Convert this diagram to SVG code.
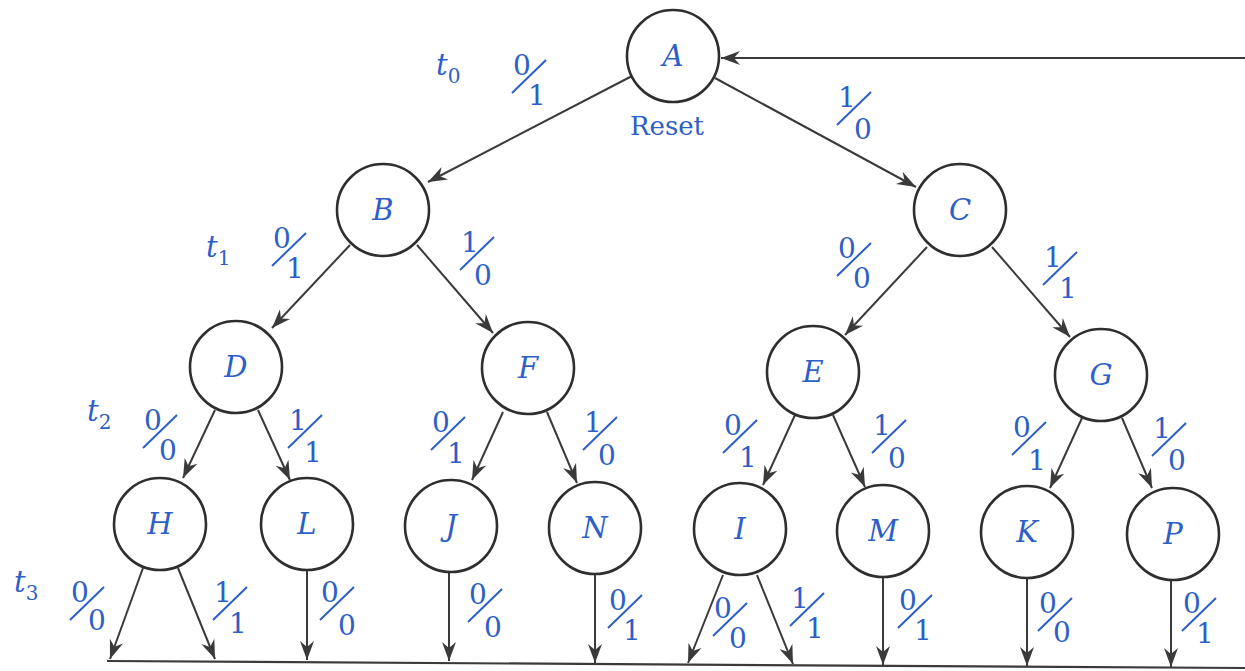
<svg xmlns="http://www.w3.org/2000/svg" width="1245" height="671" viewBox="0 0 1245 671">
<style>
.n{fill:none;stroke:#2e2e2e;stroke-width:2.6}
.e{stroke:#3a3a3a;stroke-width:2;fill:none;marker-end:url(#ah)}
.s{stroke:#2d5fc6;stroke-width:2}
</style>
<defs>
<marker id="ah" markerUnits="userSpaceOnUse" viewBox="-20 -10 22 20" markerWidth="22" markerHeight="20" refX="0" refY="0" orient="auto">
<path d="M0,0 L-19,-7 L-13,0 L-19,7 Z" fill="#3a3a3a"/>
</marker>
<g id="fr"><line class="s" x1="-10" y1="18" x2="24" y2="-15"/></g>
</defs>
<rect width="1245" height="671" fill="#ffffff"/>

<g id="connectors">
<line class="e" x1="1245" y1="58" x2="721" y2="58"/>
<line class="e" x1="632" y1="76" x2="428" y2="182"/>
<line class="e" x1="715" y1="78" x2="916" y2="187"/>
<line class="e" x1="350" y1="245" x2="272" y2="328"/>
<line class="e" x1="417" y1="245" x2="493" y2="333"/>
<line class="e" x1="927" y1="247" x2="845" y2="335"/>
<line class="e" x1="992" y1="247" x2="1070" y2="337"/>
<line class="e" x1="215" y1="410" x2="183" y2="478"/>
<line class="e" x1="258" y1="410" x2="290" y2="480"/>
<line class="e" x1="503" y1="412" x2="472" y2="480"/>
<line class="e" x1="547" y1="412" x2="577" y2="483"/>
<line class="e" x1="795" y1="415" x2="763" y2="485"/>
<line class="e" x1="833" y1="415" x2="865" y2="487"/>
<line class="e" x1="1082" y1="418" x2="1050" y2="488"/>
<line class="e" x1="1122" y1="418" x2="1152" y2="488"/>
<line class="e" x1="143" y1="568" x2="110" y2="659"/>
<line class="e" x1="178" y1="568" x2="215" y2="659"/>
<line class="e" x1="307" y1="571" x2="307" y2="660"/>
<line class="e" x1="449" y1="573" x2="449" y2="661"/>
<line class="e" x1="595" y1="575" x2="595" y2="663"/>
<line class="e" x1="723" y1="575" x2="688" y2="663"/>
<line class="e" x1="757" y1="575" x2="793" y2="664"/>
<line class="e" x1="883" y1="578" x2="883" y2="665"/>
<line class="e" x1="1027" y1="578" x2="1027" y2="666"/>
<line class="e" x1="1171" y1="580" x2="1171" y2="667"/>
<line stroke="#3a3a3a" stroke-width="2.2" x1="107" y1="661" x2="1245" y2="668"/>
</g>

<g font-family="DejaVu Serif, serif" font-style="italic" font-size="29" fill="#2d5fc6" text-anchor="middle">
<g id="A"><circle class="n" cx="673" cy="56" r="46"/><text x="673" y="66">A</text></g>
<g id="B"><circle class="n" cx="383" cy="210" r="46"/><text x="383" y="220">B</text></g>
<g id="C"><circle class="n" cx="960" cy="210" r="46"/><text x="960" y="220">C</text></g>
<g id="D"><circle class="n" cx="236" cy="367" r="46"/><text x="236" y="377">D</text></g>
<g id="F"><circle class="n" cx="528" cy="368" r="46"/><text x="528" y="378">F</text></g>
<g id="E"><circle class="n" cx="813" cy="372" r="46"/><text x="813" y="382">E</text></g>
<g id="G"><circle class="n" cx="1101" cy="375" r="46"/><text x="1101" y="385">G</text></g>
<g id="H"><circle class="n" cx="160" cy="524" r="46"/><text x="160" y="534">H</text></g>
<g id="L"><circle class="n" cx="307" cy="524" r="46"/><text x="307" y="534">L</text></g>
<g id="J"><circle class="n" cx="451" cy="526" r="46"/><text x="451" y="536">J</text></g>
<g id="N"><circle class="n" cx="595" cy="528" r="46"/><text x="595" y="538">N</text></g>
<g id="I"><circle class="n" cx="740" cy="529" r="46"/><text x="740" y="539">I</text></g>
<g id="M"><circle class="n" cx="883" cy="531" r="46"/><text x="883" y="541">M</text></g>
<g id="K"><circle class="n" cx="1027" cy="532" r="46"/><text x="1027" y="542">K</text></g>
<g id="P"><circle class="n" cx="1173" cy="534" r="46"/><text x="1173" y="544">P</text></g>
</g>

<text x="667" y="135" font-family="DejaVu Serif, serif" font-size="26" fill="#2d5fc6" text-anchor="middle">Reset</text>

<g id="time-labels" font-family="DejaVu Serif, serif" fill="#2d5fc6" font-size="29">
<text x="436" y="75" font-style="italic">t<tspan font-style="normal" font-size="20" dy="8">0</tspan></text>
<text x="206" y="257" font-style="italic">t<tspan font-style="normal" font-size="20" dy="8">1</tspan></text>
<text x="87" y="421" font-style="italic">t<tspan font-style="normal" font-size="20" dy="8">2</tspan></text>
<text x="14" y="592" font-style="italic">t<tspan font-style="normal" font-size="20" dy="8">3</tspan></text>
</g>

<g id="labels" font-family="DejaVu Serif, serif" font-size="28" fill="#2d5fc6" text-anchor="middle">
<g transform="translate(522,75)"><text>0</text><use href="#fr"/><text x="15" y="30">1</text></g>
<g transform="translate(847,107)"><text>1</text><use href="#fr"/><text x="16" y="32">0</text></g>
<g transform="translate(282,248)"><text>0</text><use href="#fr"/><text x="13" y="30">1</text></g>
<g transform="translate(470,252)"><text>1</text><use href="#fr"/><text x="13" y="33">0</text></g>
<g transform="translate(847,258)"><text>0</text><use href="#fr"/><text x="15" y="30">0</text></g>
<g transform="translate(1053,267)"><text>1</text><use href="#fr"/><text x="15" y="31">1</text></g>
<g transform="translate(153,430)"><text>0</text><use href="#fr"/><text x="15" y="30">0</text></g>
<g transform="translate(298,430)"><text>1</text><use href="#fr"/><text x="15" y="32">1</text></g>
<g transform="translate(441,432)"><text>0</text><use href="#fr"/><text x="15" y="31">1</text></g>
<g transform="translate(593,432)"><text>1</text><use href="#fr"/><text x="14" y="33">0</text></g>
<g transform="translate(733,435)"><text>0</text><use href="#fr"/><text x="15" y="32">1</text></g>
<g transform="translate(882,435)"><text>1</text><use href="#fr"/><text x="15" y="33">0</text></g>
<g transform="translate(1022,437)"><text>0</text><use href="#fr"/><text x="15" y="33">1</text></g>
<g transform="translate(1162,438)"><text>1</text><use href="#fr"/><text x="15" y="32">0</text></g>
<g transform="translate(80,602)"><text>0</text><use href="#fr"/><text x="17" y="28">0</text></g>
<g transform="translate(223,602)"><text>1</text><use href="#fr"/><text x="15" y="31">1</text></g>
<g transform="translate(330,602)"><text>0</text><use href="#fr"/><text x="17" y="33">0</text></g>
<g transform="translate(478,604)"><text>0</text><use href="#fr"/><text x="15" y="33">0</text></g>
<g transform="translate(618,610)"><text>0</text><use href="#fr"/><text x="14" y="30">1</text></g>
<g transform="translate(723,618)"><text>0</text><use href="#fr"/><text x="15" y="30">0</text></g>
<g transform="translate(800,608)"><text>1</text><use href="#fr"/><text x="15" y="30">1</text></g>
<g transform="translate(908,610)"><text>0</text><use href="#fr"/><text x="15" y="30">1</text></g>
<g transform="translate(1048,613)"><text>0</text><use href="#fr"/><text x="14" y="29">0</text></g>
<g transform="translate(1192,613)"><text>0</text><use href="#fr"/><text x="13" y="30">1</text></g>
</g>
</svg>
